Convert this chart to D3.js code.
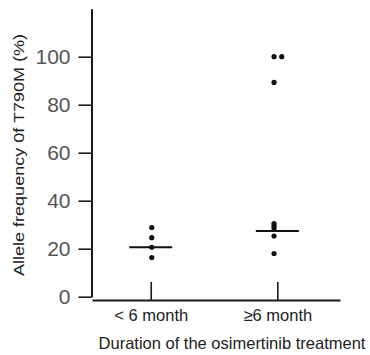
<!DOCTYPE html>
<html>
<head>
<meta charset="utf-8">
<script src="https://cdn.jsdelivr.net/npm/d3@7"></script>
<style>
  body { margin: 0; background: #fff; }
  svg { display: block; font-family: "Liberation Sans", Arial, sans-serif; }
</style>
</head>
<body>
<div class="chart"></div>
<script>
const WIDTH = 370, HEIGHT = 355;

// categories on the x axis (positions 1 and 2)
const CATEGORIES = ["< 6 month", "\u22656 month"];
const CAT_POS = [1, 2];

// individual points: category position (with the small offset seen in the figure) and value
const G1_X = [1.008, 1.008, 1.008, 1.008];
const G1_Y = [28.8, 24.6, 20.6, 16.3];
const G2_X = [1.974, 2.035, 1.974, 1.974, 1.974, 1.974, 1.974, 1.974];
const G2_Y = [100, 100, 89.3, 30.5, 29.5, 28.5, 25.3, 18.0];

// horizontal summary lines per group
const MEDIANS = [20.6, 27.4];
const MEDIAN_HALF = 0.17;

const Y_TICKS = [0, 20, 40, 60, 80, 100];

const svg = d3.select(".chart").append("svg").attr("width", WIDTH).attr("height", HEIGHT);

const x = d3.scaleLinear().domain([0.536, 2.495]).range([92, 340]);
const y = d3.scaleLinear().domain([0, 120]).range([296.7, 8.7]);

// Y axis
const yAxis = svg.append("g").attr("transform", "translate(91.5,0)")
  .call(d3.axisLeft(y).tickValues(Y_TICKS).tickSizeInner(13).tickSizeOuter(0).tickPadding(8));
yAxis.select(".domain").attr("stroke", "#1a1a1a").attr("stroke-width", 2);
yAxis.selectAll(".tick line").attr("stroke", "#1a1a1a").attr("stroke-width", 1.6);
yAxis.selectAll(".tick text").attr("font-size", 21).attr("fill", "#555")
  .attr("font-family", "Liberation Sans, Arial, sans-serif");

// X axis (ticks point up into the plot)
const xAxis = svg.append("g").attr("transform", "translate(0,300)")
  .call(d3.axisBottom(x).tickValues(CAT_POS).tickFormat((d, i) => CATEGORIES[i])
    .tickSizeInner(-18).tickSizeOuter(0).tickPadding(9));
xAxis.select(".domain").attr("stroke", "#1a1a1a").attr("stroke-width", 2);
xAxis.selectAll(".tick line").attr("stroke", "#1a1a1a").attr("stroke-width", 1.6);
xAxis.selectAll(".tick text").attr("font-size", 16.5).attr("fill", "#222")
  .attr("font-family", "Liberation Sans, Arial, sans-serif");

// Axis titles
svg.append("text")
  .attr("x", 232).attr("y", 349)
  .attr("text-anchor", "middle")
  .attr("font-size", 16.5).attr("fill", "#222")
  .text("Duration of the osimertinib treatment");

svg.append("text")
  .attr("transform", "translate(24,155) rotate(-90)")
  .attr("text-anchor", "middle")
  .attr("font-size", 14).attr("fill", "#222")
  .attr("textLength", 242).attr("lengthAdjust", "spacingAndGlyphs")
  .text("Allele frequency 0f  T790M (%)");

// Median lines
svg.selectAll(".median").data(MEDIANS).enter().append("line")
  .attr("class", "median")
  .attr("x1", (d, i) => x(CAT_POS[i] - MEDIAN_HALF))
  .attr("x2", (d, i) => x(CAT_POS[i] + MEDIAN_HALF))
  .attr("y1", d => y(d)).attr("y2", d => y(d))
  .attr("stroke", "#111").attr("stroke-width", 2);

// Points
const points = G1_Y.map((v, i) => ({x: G1_X[i], y: v}))
  .concat(G2_Y.map((v, i) => ({x: G2_X[i], y: v})));

svg.selectAll(".pt").data(points).enter().append("circle")
  .attr("class", "pt")
  .attr("cx", d => x(d.x))
  .attr("cy", d => y(d.y))
  .attr("r", 2.6)
  .attr("fill", "#111");
</script>
</body>
</html>
